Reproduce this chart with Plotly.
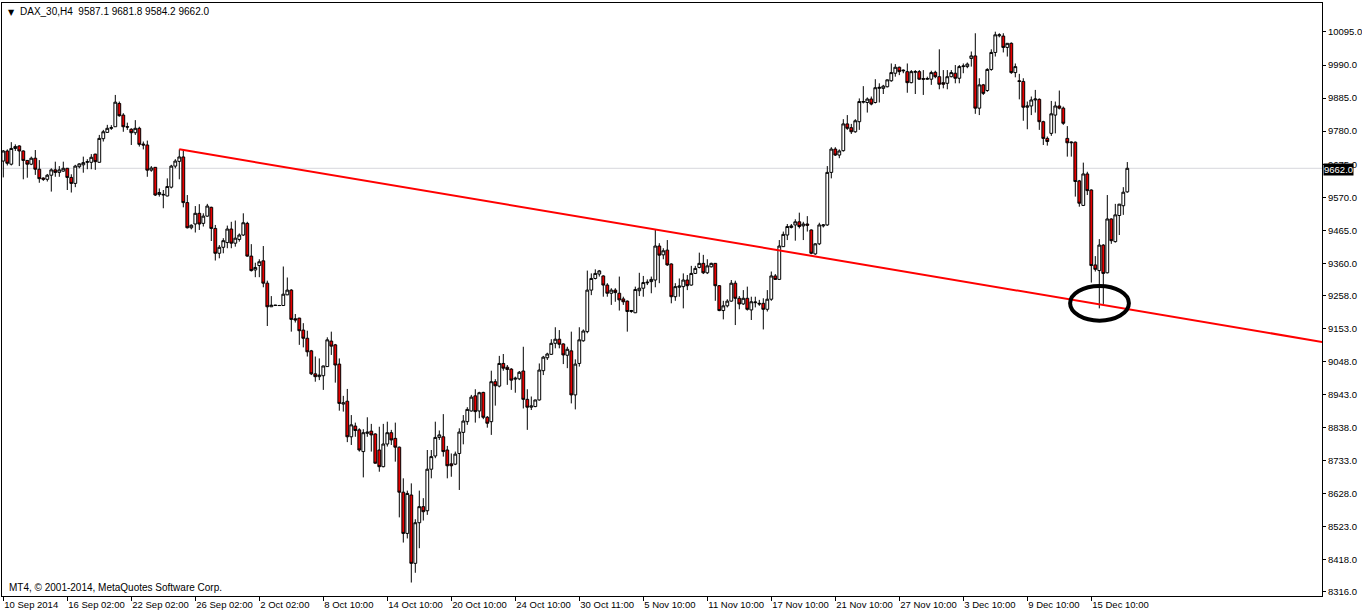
import plotly.graph_objects as go

# ---------------- data (DAX_30, H4 bars) ----------------
opens = [9685, 9717, 9675, 9725, 9733, 9717, 9687, 9675, 9694, 9659,
         9631, 9627, 9640, 9657, 9649, 9653, 9662, 9633, 9614, 9667,
         9673, 9681, 9681, 9707, 9681, 9756, 9776, 9789, 9794, 9868,
         9831, 9794, 9786, 9775, 9789, 9739, 9736, 9656, 9665, 9579,
         9577, 9574, 9602, 9669, 9684, 9698, 9553, 9473, 9485, 9519,
         9487, 9510, 9538, 9471, 9392, 9411, 9426, 9469, 9424, 9436,
         9450, 9487, 9383, 9339, 9353, 9368, 9297, 9222, 9226, 9226,
         9226, 9260, 9275, 9184, 9186, 9148, 9122, 9082, 9009, 9000,
         9003, 9032, 9113, 9101, 9040, 8913, 8922, 8809, 8843, 8831,
         8762, 8820, 8827, 8818, 8767, 8714, 8786, 8822, 8804, 8776,
         8633, 8502, 8624, 8407, 8536, 8587, 8574, 8706, 8748, 8807,
         8809, 8767, 8723, 8722, 8756, 8823, 8857, 8891, 8939, 8891,
         8950, 8871, 8857, 8984, 8970, 9042, 9030, 9024, 8992, 8993,
         9018, 8928, 8903, 8905, 8926, 9019, 9060, 9071, 9106, 9119,
         9104, 9068, 9082, 8942, 9042, 9114, 9143, 9275, 9312, 9326,
         9320, 9291, 9265, 9275, 9265, 9247, 9240, 9207, 9203, 9273,
         9281, 9298, 9302, 9307, 9415, 9387, 9402, 9358, 9254, 9284,
         9286, 9307, 9291, 9328, 9347, 9360, 9330, 9349, 9360, 9289,
         9210, 9225, 9240, 9297, 9249, 9231, 9249, 9212, 9235, 9233,
         9233, 9214, 9246, 9320, 9309, 9413, 9450, 9474, 9482, 9492,
         9479, 9485, 9466, 9390, 9422, 9479, 9482, 9649, 9723, 9704,
         9718, 9803, 9791, 9778, 9810, 9872, 9871, 9882, 9871, 9916,
         9916, 9921, 9940, 9964, 9983, 9974, 9969, 9934, 9967, 9969,
         9947, 9945, 9945, 9967, 9953, 9934, 9932, 9953, 9964, 9948,
         9985, 9985, 10011, 10019, 9853, 9927, 9909, 9976, 10030, 10083,
         10082, 10046, 10059, 9966, 9940, 9938, 9856, 9860, 9879, 9881,
         9810, 9757, 9773, 9831, 9860, 9853, 9757, 9743, 9745, 9622,
         9544, 9644, 9593, 9355, 9337, 9418, 9330, 9501, 9429, 9512,
         9543, 9587.1]
highs = [9720, 9722, 9745, 9738, 9735, 9719, 9688, 9699, 9720, 9688,
         9633, 9644, 9662, 9683, 9669, 9683, 9663, 9643, 9673, 9678,
         9699, 9691, 9707, 9708, 9768, 9784, 9800, 9799, 9895, 9874,
         9837, 9807, 9789, 9815, 9794, 9747, 9750, 9669, 9666, 9598,
         9593, 9630, 9673, 9691, 9722, 9720, 9577, 9484, 9542, 9548,
         9519, 9549, 9540, 9482, 9418, 9440, 9480, 9492, 9496, 9455,
         9519, 9492, 9421, 9362, 9373, 9415, 9305, 9256, 9228, 9228,
         9350, 9315, 9278, 9199, 9187, 9170, 9146, 9085, 9064, 9058,
         9035, 9125, 9143, 9104, 9058, 8939, 8961, 8878, 8854, 8836,
         8833, 8871, 8850, 8820, 8841, 8850, 8857, 8831, 8854, 8778,
         8677, 8638, 8661, 8547, 8638, 8614, 8767, 8767, 8857, 8829,
         8881, 8780, 8756, 8762, 8836, 8878, 8903, 8942, 8960, 8952,
         8952, 8875, 9019, 8992, 9066, 9072, 9037, 9027, 9000, 9018,
         9095, 8960, 8937, 8927, 9042, 9066, 9076, 9119, 9157, 9148,
         9106, 9095, 9143, 9055, 9157, 9150, 9337, 9328, 9341, 9339,
         9322, 9297, 9281, 9281, 9318, 9254, 9242, 9212, 9286, 9330,
         9320, 9309, 9318, 9466, 9424, 9408, 9434, 9360, 9297, 9312,
         9328, 9323, 9352, 9352, 9394, 9387, 9373, 9362, 9361, 9291,
         9241, 9246, 9307, 9305, 9256, 9275, 9286, 9254, 9254, 9244,
         9249, 9275, 9334, 9326, 9434, 9461, 9485, 9485, 9500, 9521,
         9492, 9510, 9468, 9424, 9489, 9485, 9669, 9729, 9729, 9722,
         9818, 9831, 9803, 9818, 9884, 9923, 9887, 9890, 9945, 9932,
         9927, 9944, 9995, 9993, 9985, 9976, 9995, 9974, 9974, 9974,
         9974, 9953, 9972, 9972, 10040, 9974, 9974, 9974, 9990, 9990,
         9995, 9998, 10033, 10091, 9948, 9930, 9980, 10040, 10096, 10091,
         10091, 10060, 10062, 9995, 9962, 9948, 9874, 9890, 9911, 9884,
         9813, 9763, 9876, 9874, 9909, 9858, 9796, 9747, 9747, 9625,
         9680, 9651, 9595, 9383, 9437, 9421, 9577, 9503, 9549, 9549,
         9602, 9681.8]
lows = [9633, 9671, 9671, 9717, 9669, 9627, 9632, 9672, 9641, 9616,
        9622, 9620, 9588, 9635, 9635, 9651, 9593, 9585, 9602, 9662,
        9648, 9659, 9659, 9657, 9680, 9747, 9775, 9784, 9794, 9826,
        9778, 9784, 9736, 9768, 9731, 9722, 9635, 9651, 9574, 9572,
        9535, 9573, 9598, 9662, 9627, 9538, 9471, 9468, 9458, 9466,
        9477, 9508, 9431, 9369, 9376, 9392, 9408, 9408, 9413, 9429,
        9447, 9381, 9334, 9316, 9316, 9284, 9161, 9222, 9225, 9225,
        9225, 9259, 9143, 9172, 9101, 9093, 9064, 9005, 8984, 8989,
        8958, 9031, 9069, 8981, 8892, 8889, 8792, 8783, 8809, 8762,
        8680, 8809, 8762, 8724, 8698, 8712, 8778, 8783, 8730, 8553,
        8473, 8486, 8346, 8377, 8455, 8543, 8561, 8677, 8741, 8799,
        8746, 8677, 8682, 8719, 8640, 8785, 8847, 8889, 8854, 8868,
        8865, 8838, 8815, 8908, 8966, 9019, 8974, 8958, 8949, 8989,
        8899, 8831, 8894, 8903, 8924, 9005, 9053, 9069, 9090, 9090,
        9040, 9027, 8915, 8896, 9032, 9111, 9138, 9259, 9309, 9318,
        9254, 9254, 9228, 9238, 9210, 9228, 9143, 9203, 9202, 9256,
        9254, 9291, 9265, 9284, 9297, 9373, 9352, 9233, 9241, 9254,
        9217, 9275, 9289, 9326, 9344, 9326, 9326, 9347, 9241, 9208,
        9182, 9220, 9238, 9164, 9214, 9228, 9210, 9180, 9220, 9225,
        9150, 9207, 9241, 9308, 9307, 9412, 9434, 9471, 9432, 9471,
        9434, 9461, 9389, 9387, 9418, 9474, 9479, 9630, 9701, 9694,
        9715, 9784, 9771, 9775, 9784, 9868, 9839, 9862, 9868, 9871,
        9898, 9919, 9937, 9953, 9958, 9964, 9902, 9932, 9898, 9943,
        9895, 9943, 9927, 9948, 9913, 9916, 9913, 9951, 9932, 9932,
        9964, 9980, 9985, 9835, 9831, 9895, 9905, 9972, 10017, 10078,
        10030, 10017, 9962, 9951, 9881, 9813, 9786, 9831, 9839, 9784,
        9736, 9734, 9765, 9773, 9849, 9800, 9699, 9699, 9572, 9540,
        9542, 9577, 9299, 9334, 9217, 9231, 9328, 9422, 9426, 9450,
        9514, 9584.2]
closes = [9717, 9678, 9725, 9731, 9717, 9687, 9675, 9694, 9659, 9629,
          9627, 9640, 9657, 9649, 9657, 9662, 9633, 9614, 9669, 9676,
          9680, 9683, 9697, 9683, 9757, 9778, 9789, 9791, 9872, 9829,
          9794, 9793, 9775, 9789, 9738, 9736, 9656, 9663, 9577, 9585,
          9579, 9604, 9669, 9685, 9698, 9553, 9473, 9481, 9519, 9485,
          9510, 9542, 9471, 9392, 9411, 9432, 9469, 9424, 9440, 9450,
          9489, 9383, 9337, 9347, 9365, 9297, 9222, 9227, 9227, 9226,
          9262, 9275, 9182, 9180, 9146, 9122, 9079, 9009, 9000, 9005,
          9034, 9117, 9097, 9037, 8915, 8917, 8809, 8847, 8829, 8767,
          8822, 8824, 8815, 8725, 8714, 8786, 8822, 8799, 8776, 8633,
          8502, 8629, 8407, 8536, 8587, 8571, 8706, 8746, 8807, 8815,
          8762, 8717, 8717, 8754, 8824, 8859, 8896, 8935, 8889, 8949,
          8871, 8852, 8984, 8971, 9042, 9027, 9023, 8989, 8995, 9014,
          8928, 8903, 8907, 8926, 9021, 9062, 9072, 9106, 9119, 9103,
          9069, 9087, 8942, 9040, 9117, 9145, 9275, 9312, 9328, 9336,
          9291, 9265, 9275, 9267, 9244, 9238, 9207, 9210, 9277, 9281,
          9299, 9300, 9309, 9415, 9386, 9400, 9355, 9254, 9286, 9288,
          9307, 9289, 9328, 9344, 9360, 9330, 9352, 9360, 9289, 9210,
          9225, 9240, 9297, 9249, 9231, 9249, 9214, 9238, 9237, 9231,
          9214, 9246, 9320, 9309, 9415, 9452, 9477, 9479, 9492, 9477,
          9485, 9481, 9392, 9422, 9482, 9482, 9649, 9723, 9704, 9717,
          9803, 9789, 9778, 9813, 9874, 9874, 9882, 9866, 9918, 9919,
          9923, 9943, 9966, 9983, 9969, 9972, 9934, 9969, 9969, 9945,
          9945, 9947, 9966, 9953, 9929, 9929, 9953, 9966, 9948, 9985,
          9987, 9993, 10019, 9853, 9927, 9900, 9976, 10030, 10086, 10086,
          10046, 10059, 9966, 9985, 9938, 9856, 9860, 9879, 9882, 9810,
          9757, 9747, 9835, 9860, 9853, 9805, 9743, 9745, 9620, 9551,
          9644, 9591, 9353, 9341, 9418, 9328, 9501, 9432, 9514, 9548,
          9586, 9662.0]

bar_index = list(range(len(closes)))

tick_bars = [0, 16, 32, 48, 64, 80, 96, 112, 128, 144, 160, 176, 192, 208,
             224, 240, 256, 272]
tick_labels = ["10 Sep 2014", "16 Sep 02:00", "22 Sep 02:00", "26 Sep 02:00",
               "2 Oct 02:00", "8 Oct 10:00", "14 Oct 10:00", "20 Oct 10:00",
               "24 Oct 10:00", "30 Oct 11:00", "5 Nov 10:00", "11 Nov 10:00",
               "17 Nov 10:00", "21 Nov 10:00", "27 Nov 10:00", "3 Dec 10:00",
               "9 Dec 10:00", "15 Dec 10:00"]
price_ticks = [10095, 9990, 9885, 9780, 9675, 9570, 9465, 9360, 9258, 9153,
               9048, 8943, 8838, 8733, 8628, 8523, 8418, 8316]

# trend line anchors (bar index, price) and highlighted zone
trend_x = [44, 329.85]
trend_y = [9722.3, 9110.1]
zone_x = [266.7, 281.4]
zone_y = [9178, 9288]

symbol = "DAX_30,H4"
copyright_text = "MT4, © 2001-2014, MetaQuotes Software Corp."

FONT = "Liberation Sans, Arial, sans-serif"

fig = go.Figure()

fig.add_trace(go.Candlestick(
    x=bar_index, open=opens, high=highs, low=lows, close=closes,
    increasing=dict(fillcolor="white", line=dict(color="black", width=1)),
    decreasing=dict(fillcolor="#e60000", line=dict(color="black", width=1)),
    whiskerwidth=0, hoverinfo="skip", showlegend=False,
))

fig.add_trace(go.Scatter(
    x=trend_x, y=trend_y, mode="lines",
    line=dict(color="#ff0000", width=2),
    hoverinfo="skip", showlegend=False,
))

# bid line
fig.add_shape(type="line", xref="paper", yref="y", x0=0, x1=1,
              y0=closes[-1], y1=closes[-1],
              line=dict(color="#d6d7dc", width=1), layer="below")

# highlight ellipse
fig.add_shape(type="circle", xref="x", yref="y",
              x0=zone_x[0], x1=zone_x[1], y0=zone_y[0], y1=zone_y[1],
              line=dict(color="black", width=4), layer="above")

fig.update_layout(
    width=1362, height=614,
    margin=dict(l=2, r=40, t=3, b=18),
    paper_bgcolor="white", plot_bgcolor="white",
    boxgap=0.3, boxgroupgap=0,
    font=dict(family=FONT, size=10, color="black"),
    showlegend=False,
    xaxis=dict(
        range=[-0.325, 329.675], autorange=False,
        tickvals=tick_bars, ticktext=tick_labels, tickangle=0,
        ticks="outside", ticklen=4, tickcolor="black", tickwidth=1,
        ticklabelposition="outside right",
        showline=True, linecolor="black", linewidth=1, mirror=True,
        showgrid=False, zeroline=False,
        rangeslider=dict(visible=False),
        tickfont=dict(family=FONT, size=9.5, color="black"),
        automargin=False, fixedrange=True,
    ),
    yaxis=dict(
        range=[8303.2, 10187.1], autorange=False, side="right",
        tickvals=price_ticks, ticktext=[f"{v:.1f}" for v in price_ticks],
        ticks="outside", ticklen=3, tickcolor="black", tickwidth=1,
        showline=True, linecolor="black", linewidth=1, mirror=True,
        showgrid=False, zeroline=False,
        tickfont=dict(family=FONT, size=9.5, color="black"),
        automargin=False, fixedrange=True,
    ),
)

header = "\u00a0\u00a0".join([symbol, " ".join(f"{v:.1f}" for v in (opens[-1], highs[-1], lows[-1], closes[-1]))])

fig.add_annotation(xref="paper", yref="paper", x=0, y=1, xanchor="left", yanchor="top",
                   xshift=4, yshift=-3, text="▼", showarrow=False,
                   font=dict(family="DejaVu Sans", size=8, color="black"))
fig.add_annotation(xref="paper", yref="paper", x=0, y=1, xanchor="left", yanchor="top",
                   xshift=16, yshift=-1, text=header, showarrow=False,
                   font=dict(family=FONT, size=10, color="black"))
fig.add_annotation(xref="paper", yref="paper", x=0, y=0, xanchor="left", yanchor="bottom",
                   xshift=5, yshift=1, text=copyright_text, showarrow=False,
                   font=dict(family=FONT, size=10, color="black"))
fig.add_annotation(xref="paper", yref="y", x=1, y=closes[-1], xanchor="left", yanchor="middle",
                   xshift=1, yshift=-1, text=f"{closes[-1]:.1f}", showarrow=False,
                   bgcolor="black", borderpad=0,
                   font=dict(family=FONT, size=9.5, color="white"))

fig.write_html("out.html",
               config={"displayModeBar": False, "staticPlot": True},
               post_script="document.body.style.margin='0';document.body.style.overflow='hidden';")
